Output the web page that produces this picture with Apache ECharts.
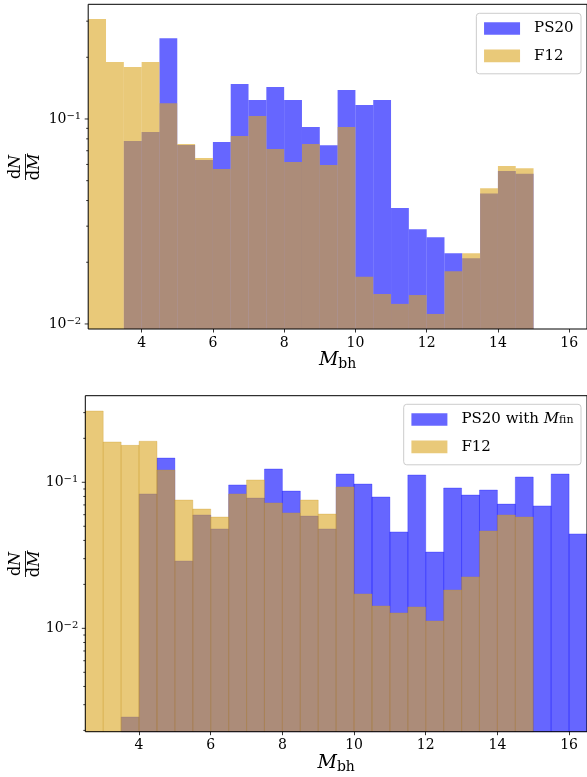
<!DOCTYPE html>
<html>
<head>
<meta charset="utf-8">
<script src="https://cdn.jsdelivr.net/npm/echarts@6/dist/echarts.min.js"></script>
<style>
  html, body { margin: 0; padding: 0; background: #ffffff; }
  #chart { width: 587px; height: 777px; }
</style>
</head>
<body>
<div id="chart"></div>
<script>
// Histogram bins: left edge of the first bin and common bin width (solar masses)
const binStart = 2.5;
const binWidth = 0.5;
const xRange = [2.5, 16.5];
const xTicks = [4, 6, 8, 10, 12, 14, 16];

// dN/dM per bin, upper panel
const topPS20 = [0, 0, 0.0781, 0.0864, 0.2477, 0.0746, 0.0631, 0.0772, 0.1483, 0.1238,
  0.1432, 0.1238, 0.0914, 0.0744, 0.1385, 0.1170, 0.1238, 0.0368, 0.0290, 0.0265,
  0.0221, 0.0209, 0.0433, 0.0557, 0.0541];
const topF12 = [0.3076, 0.1897, 0.1795, 0.1897, 0.1193, 0.0755, 0.0646, 0.0570, 0.0826, 0.1034,
  0.0714, 0.0616, 0.0755, 0.0597, 0.0914, 0.0170, 0.0140, 0.01253, 0.01384, 0.01119,
  0.0181, 0.0221, 0.0459, 0.0590, 0.0575];

// dN/dM per bin, lower panel (PS20 using final masses)
const bottomPS20 = [0, 0, 0.00247, 0.0832, 0.1466, 0.0289, 0.0597, 0.0479, 0.0959, 0.0780,
  0.1233, 0.0871, 0.0587, 0.0479, 0.1139, 0.0973, 0.0793, 0.0457, 0.1122, 0.0333,
  0.0914, 0.0818, 0.0885, 0.0709, 0.1087, 0.0689, 0.1139, 0.0443];
const bottomF12 = [0.3076, 0.1888, 0.1790, 0.1909, 0.1214, 0.0756, 0.0656, 0.0578, 0.0832, 0.1037,
  0.0722, 0.0617, 0.0756, 0.0606, 0.0929, 0.0172, 0.01422, 0.01274, 0.0140, 0.01122,
  0.0183, 0.0225, 0.0464, 0.0597, 0.0578];

// Log-axis limits and tick values
const topYRange = [0.00945, 0.3626];
const bottomYRange = [0.00196, 0.3917];
const topMajorTicks = [0.01, 0.1];
const topMinorTicks = [0.02, 0.03, 0.04, 0.05, 0.06, 0.07, 0.08, 0.09, 0.2, 0.3];
const bottomMajorTicks = [0.01, 0.1];
const bottomMinorTicks = [0.002, 0.003, 0.004, 0.005, 0.006, 0.007, 0.008, 0.009,
  0.02, 0.03, 0.04, 0.05, 0.06, 0.07, 0.08, 0.09, 0.2, 0.3];

const BLUE = 'rgba(0,0,255,0.6)';
const GOLD = 'rgba(218,165,32,0.6)';
const FONT = '"DejaVu Serif", "Liberation Serif", serif';

function toBins(values) {
  return values.map((v, i) => [binStart + i * binWidth, binStart + (i + 1) * binWidth, v]);
}

function barRenderer(base, fill, edge) {
  return function (params, api) {
    const v = api.value(2);
    if (!(v > 0)) return null;
    const a = api.coord([api.value(0), v]);
    const b = api.coord([api.value(1), base]);
    return {
      type: 'rect',
      shape: { x: a[0], y: a[1], width: b[0] - a[0], height: b[1] - a[1] },
      style: edge ? { fill: fill, stroke: edge, lineWidth: 0.8 } : { fill: fill }
    };
  };
}

function tickRenderer(len) {
  return function (params, api) {
    const p = api.coord([api.value(0), api.value(1)]);
    return {
      type: 'line',
      shape: { x1: p[0] - len, y1: p[1], x2: p[0], y2: p[1] },
      style: { stroke: '#000', lineWidth: 0.8 }
    };
  };
}

function histSeries(name, idx, values, base, fill, edge) {
  return {
    type: 'custom', name: name, xAxisIndex: idx, yAxisIndex: idx,
    itemStyle: { color: fill },
    encode: { x: [0, 1], y: 2 },
    data: toBins(values),
    renderItem: barRenderer(base, fill, edge),
    silent: true
  };
}

function tickSeries(idx, values, len) {
  return {
    type: 'custom', xAxisIndex: idx, yAxisIndex: idx,
    encode: { x: 0, y: 1 },
    data: values.map(v => [xRange[0], v]),
    renderItem: tickRenderer(len),
    silent: true, z: 6
  };
}

function logLabel(value) {
  const e = Math.log10(value);
  const r = Math.round(e);
  if (Math.abs(e - r) > 1e-6) return '';
  return '{b|10}{s|' + (r < 0 ? '\u2212' : '') + Math.abs(r) + '}';
}

const logRich = {
  b: { fontFamily: FONT, fontSize: 14, lineHeight: 16, color: '#000' },
  s: { fontFamily: FONT, fontSize: 10, lineHeight: 6, verticalAlign: 'top', color: '#000' }
};

function xAxisCfg(idx) {
  return {
    type: 'value', gridIndex: idx, min: xRange[0], max: xRange[1],
    axisLine: { show: false },
    splitLine: { show: false },
    axisTick: { show: true, customValues: xTicks, length: 3.5, lineStyle: { color: '#000', width: 0.8 } },
    axisLabel: { customValues: xTicks, margin: 7, fontFamily: FONT, fontSize: 14, color: '#000' },
    name: '{m|M}{s|bh}',
    nameLocation: 'middle',
    nameGap: 17,
    nameTextStyle: {
      rich: {
        m: { fontFamily: FONT, fontStyle: 'italic', fontSize: 19, lineHeight: 22, color: '#000' },
        s: { fontFamily: FONT, fontSize: 14, lineHeight: 14, verticalAlign: 'bottom', color: '#000' }
      }
    },
    z: 6
  };
}

function yAxisCfg(idx, range) {
  return {
    type: 'log', logBase: 10, gridIndex: idx, min: range[0], max: range[1],
    axisLine: { show: false },
    axisTick: { show: false },
    splitLine: { show: false },
    axisLabel: { formatter: logLabel, rich: logRich, margin: 7 },
    z: 6
  };
}

function legendCfg(names, top) {
  return {
    data: names, orient: 'vertical', right: 6, top: top,
    icon: 'rect', itemWidth: 36, itemHeight: 12.7, itemGap: 12.3,
    padding: [7.7, 7.5, 10.5, 7.7],
    backgroundColor: 'rgba(255,255,255,0.8)',
    borderColor: '#cccccc', borderWidth: 1, borderRadius: 3,
    selectedMode: false,
    formatter: function (name) {
      if (name === 'PS20 with Mfin') return '{t|PS20 with }{i|M}{f|fin}';
      return '{t|' + name + '}';
    },
    textStyle: {
      padding: [0, 0, 0, 9],
      rich: {
        t: { fontFamily: FONT, fontSize: 15, lineHeight: 13, color: '#000' },
        i: { fontFamily: FONT, fontStyle: 'italic', fontSize: 15, lineHeight: 13, color: '#000' },
        f: { fontFamily: FONT, fontSize: 11, lineHeight: 8, verticalAlign: 'bottom', color: '#000' }
      }
    }
  };
}

// Rotated dN/dM fraction used as the y-axis title
function fractionLabel(cx, cy) {
  const richStyle = {
    u: { fontFamily: FONT, fontSize: 16, color: '#000' },
    i: { fontFamily: FONT, fontStyle: 'italic', fontSize: 16, color: '#000' }
  };
  return {
    type: 'group', x: cx, y: cy, rotation: Math.PI / 2,
    children: [
      { type: 'text', x: 0, y: -1.5, style: { text: '{u|d}{i|N}', rich: richStyle, align: 'center', verticalAlign: 'bottom' } },
      { type: 'line', shape: { x1: -13, y1: 0, x2: 13, y2: 0 }, style: { stroke: '#000', lineWidth: 0.9 } },
      { type: 'text', x: 0, y: 1.5, style: { text: '{u|d}{i|M}', rich: richStyle, align: 'center', verticalAlign: 'top' } }
    ]
  };
}

const chart = echarts.init(document.getElementById('chart'), null, { renderer: 'canvas' });

chart.setOption({
  animation: false,
  backgroundColor: '#ffffff',
  grid: [
    { left: 88.2, top: 4.3, width: 500.4, height: 324.7, show: true, borderColor: '#000', borderWidth: 1, backgroundColor: 'transparent', z: 5 },
    { left: 85.3, top: 395.7, width: 504.4, height: 336, show: true, borderColor: '#000', borderWidth: 1, backgroundColor: 'transparent', z: 5 }
  ],
  xAxis: [xAxisCfg(0), xAxisCfg(1)],
  yAxis: [yAxisCfg(0, topYRange), yAxisCfg(1, bottomYRange)],
  legend: [
    legendCfg(['PS20', 'F12'], 13.3),
    legendCfg(['PS20 with Mfin', 'F12'], 404.3)
  ],
  graphic: [fractionLabel(25.5, 167), fractionLabel(25.5, 564)],
  series: [
    histSeries('PS20', 0, topPS20, topYRange[0], BLUE, null),
    histSeries('F12', 0, topF12, topYRange[0], GOLD, null),
    histSeries('PS20 with Mfin', 1, bottomPS20, bottomYRange[0], BLUE, 'rgba(0,0,255,0.35)'),
    histSeries('F12', 1, bottomF12, bottomYRange[0], GOLD, 'rgba(200,150,30,0.35)'),
    tickSeries(0, topMajorTicks, 3.5),
    tickSeries(0, topMinorTicks, 2),
    tickSeries(1, bottomMajorTicks, 3.5),
    tickSeries(1, bottomMinorTicks, 2)
  ]
});
</script>
</body>
</html>
